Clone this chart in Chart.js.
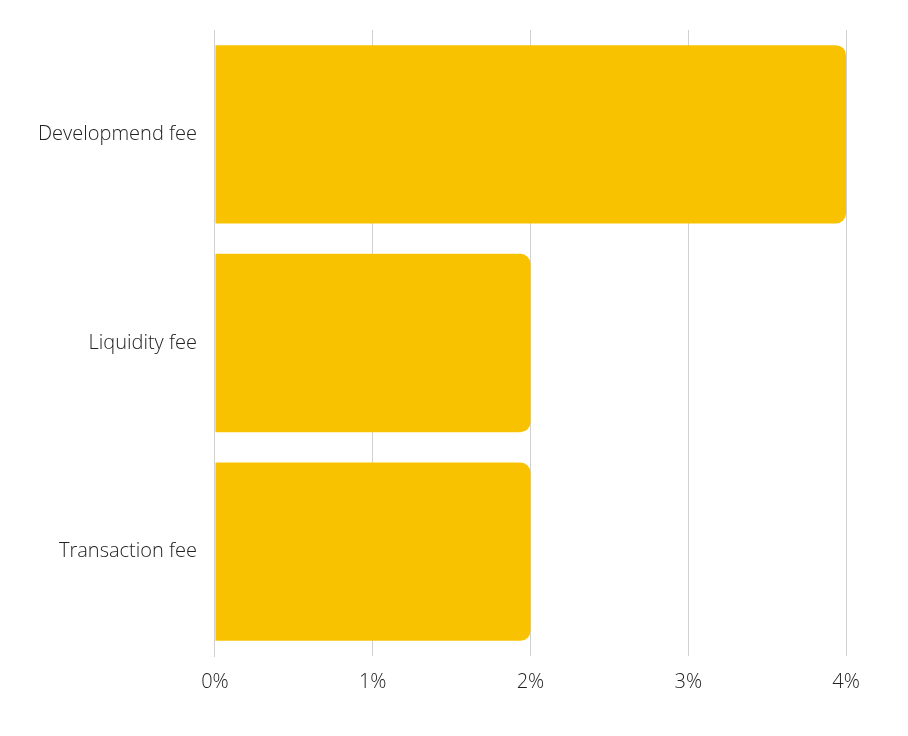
<!DOCTYPE html>
<html><head><meta charset="utf-8">
<script src="https://cdn.jsdelivr.net/npm/chart.js@4"></script>
<style>html,body{margin:0;padding:0;background:#fff}#w{width:908px;height:736px}</style>
</head><body><div id="w"><canvas id="c"></canvas></div>
<script>
const categories = ["Developmend fee", "Liquidity fee", "Transaction fee"];
const values = [4, 2, 2];
const tickLabels = ["0%", "1%", "2%", "3%", "4%"];
Chart.defaults.font.family = "'Open Sans'";
new Chart(document.getElementById('c'), {
  type: 'bar',
  data: { labels: categories, datasets: [{ data: values, backgroundColor: '#F9C200',
    borderRadius: {topRight: 10, bottomRight: 10}, borderSkipped: 'start',
    categoryPercentage: 0.855, barPercentage: 1 }] },
  options: {
    indexAxis: 'y', responsive: true, maintainAspectRatio: false, animation: false,
    layout: { padding: { top: 28, right: 62, bottom: 28, left: 20 } },
    plugins: { legend: { display: false }, tooltip: { enabled: false } },
    scales: {
      x: { min: 0, max: 4, grid: { color: '#d0d0d0', drawTicks: false }, border: { display: false },
        ticks: { stepSize: 1, padding: 14, color: '#222', font: { size: 20, weight: 300 },
          callback: (v, i) => tickLabels[i] } },
      y: { grid: { display: false, drawTicks: false }, border: { color: '#d0d0d0' },
        ticks: { padding: 18, color: '#222', font: { size: 20, weight: 300 } } }
    }
  }
});
</script></body></html>
